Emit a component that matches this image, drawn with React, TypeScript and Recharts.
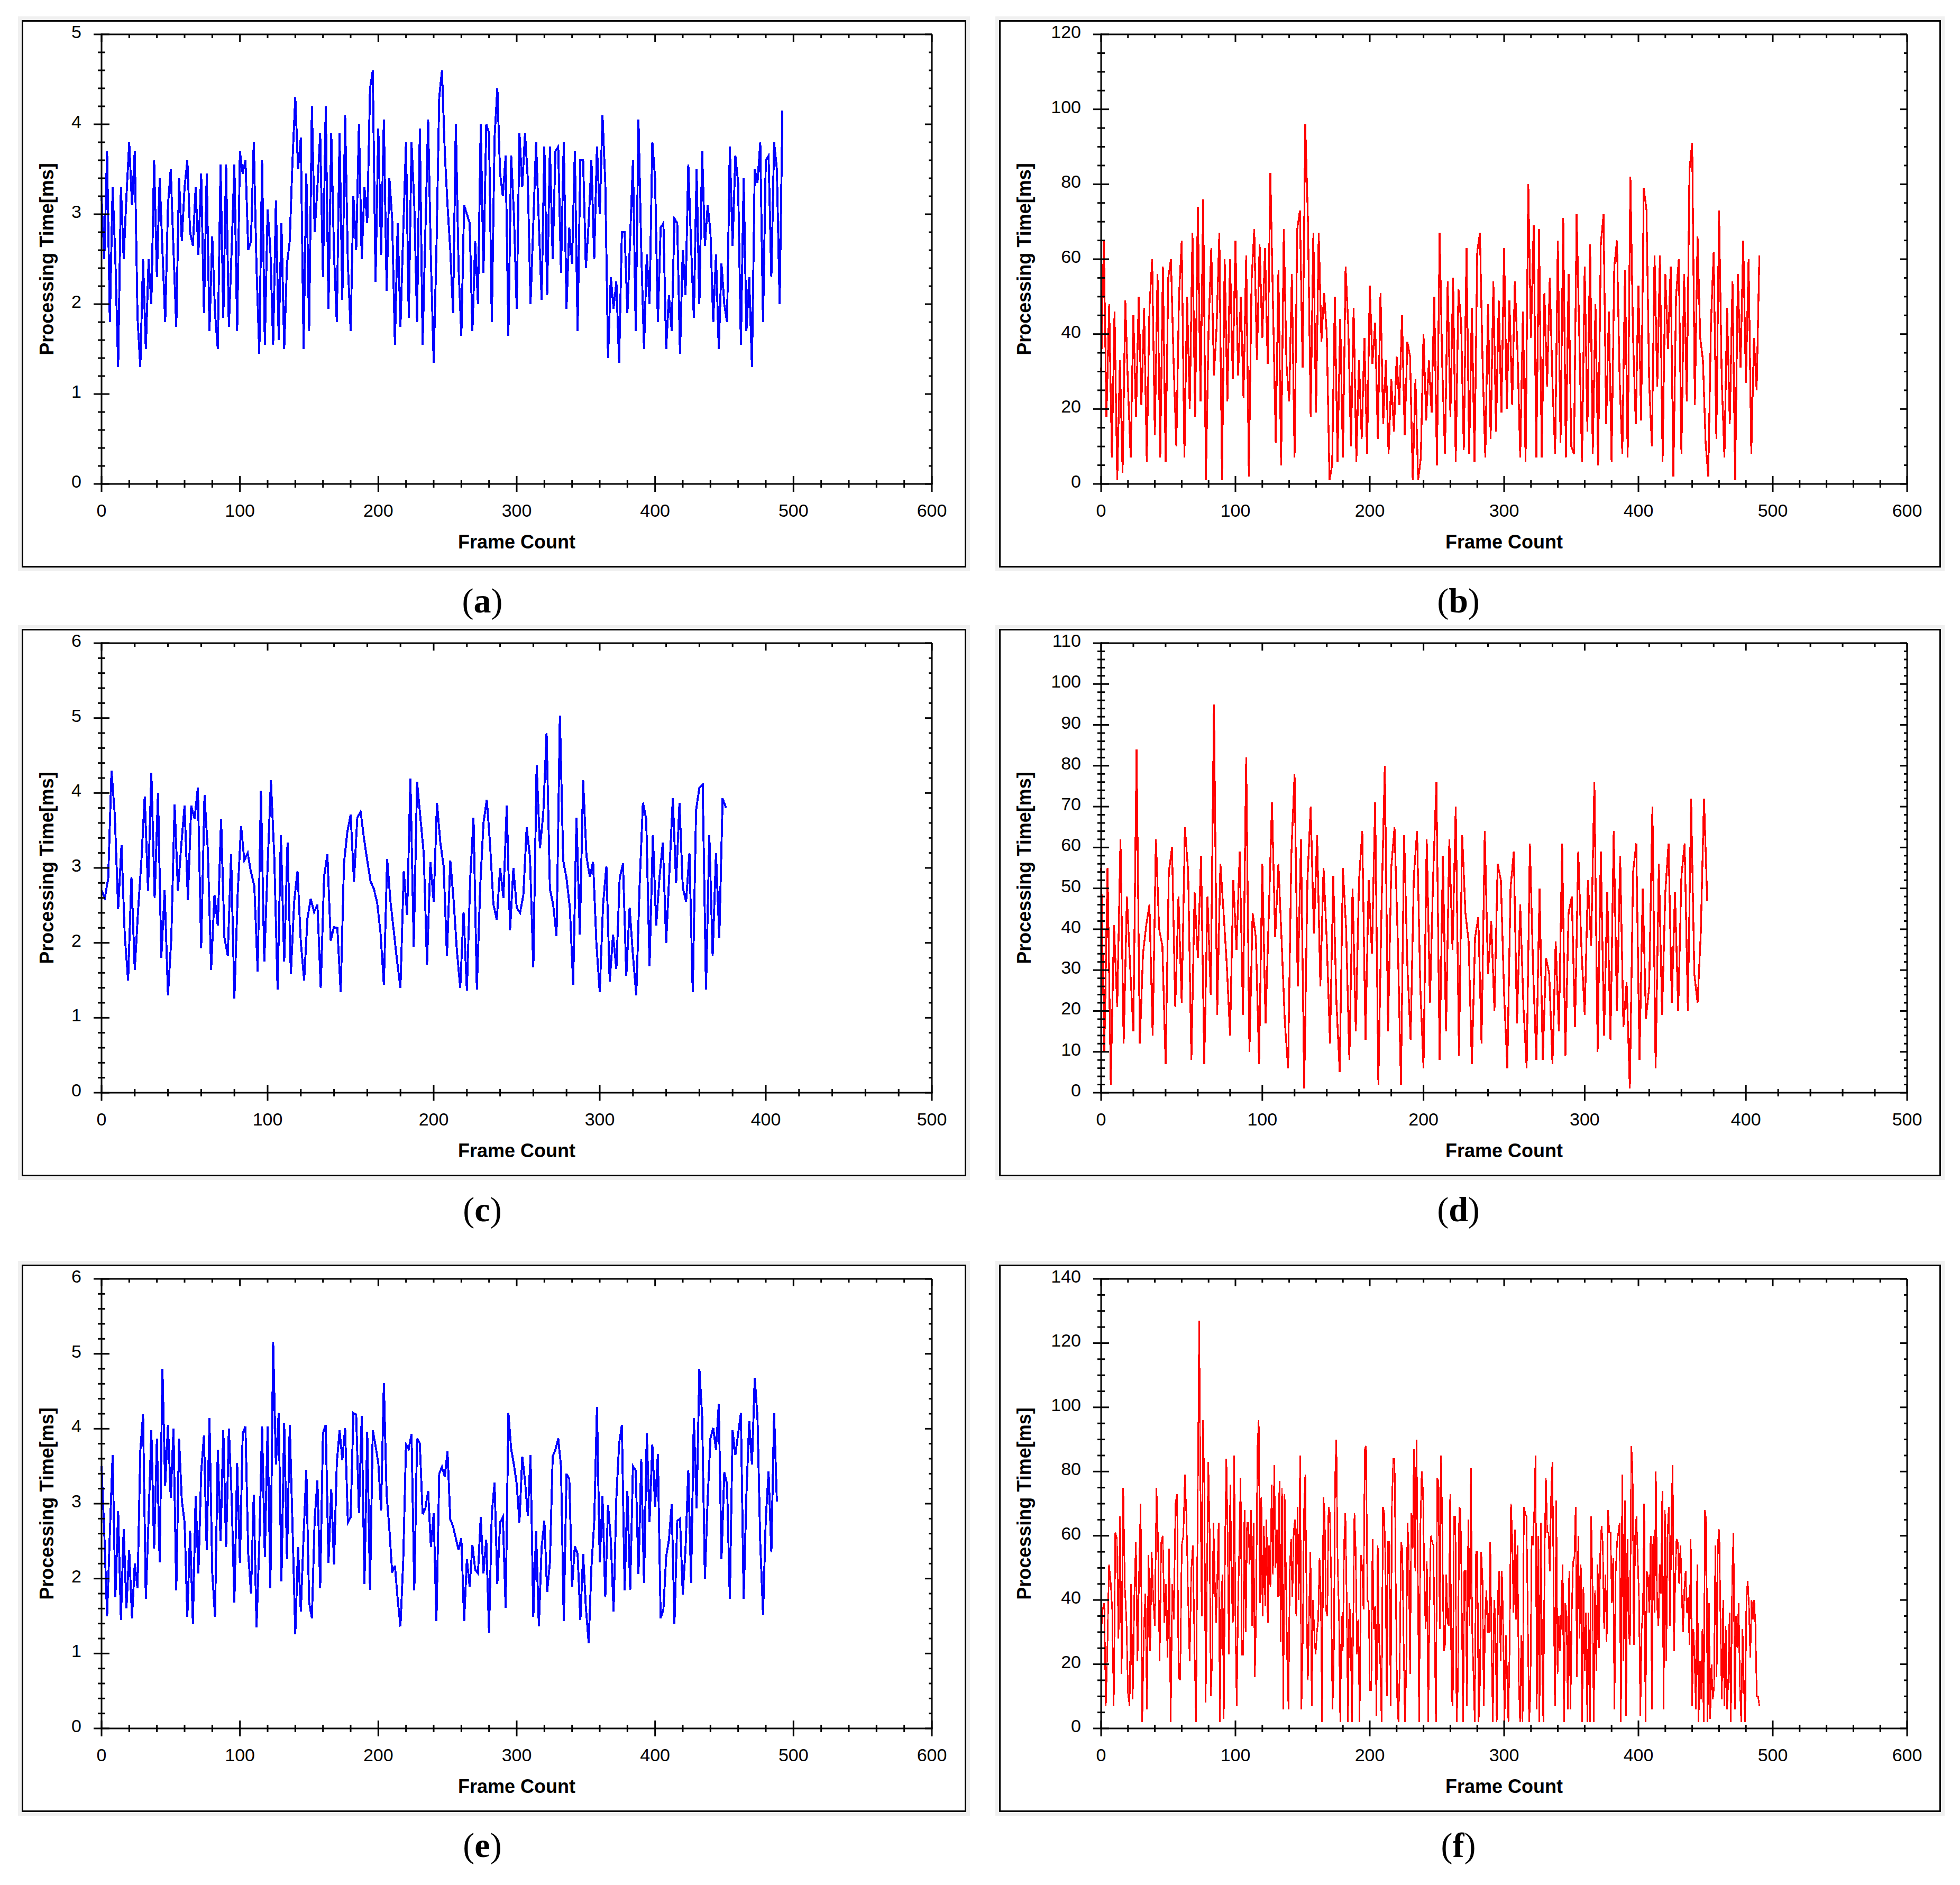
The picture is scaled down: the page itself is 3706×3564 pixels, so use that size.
import React from 'react';
import { LineChart, Line, XAxis, YAxis, ReferenceLine } from 'recharts';

const aTimes = [
  3.2, 2.5, 3.7, 1.8, 3.3, 2.5, 1.3, 3.3, 2.5, 3.2, 3.8, 3.1, 3.7, 1.85, 1.3, 2.5, 1.5, 2.5, 2.0, 3.6,
  2.3, 3.4, 2.6, 1.8, 3.1, 3.5, 2.6, 1.75, 3.4, 2.7, 3.3, 3.6, 2.8, 2.65, 3.3, 2.55, 3.45, 1.9, 3.45, 1.7,
  2.75, 1.9, 1.5, 3.55, 1.85, 3.55, 1.75, 2.6, 3.55, 1.7, 3.7, 3.45, 3.6, 2.6, 2.7, 3.8, 2.4, 1.45, 3.6, 1.55,
  3.05, 2.6, 1.55, 3.15, 1.6, 2.9, 1.5, 2.45, 2.7, 3.6, 4.3, 3.5, 3.85, 1.5, 3.45, 1.7, 4.2, 2.8, 3.3, 3.9,
  2.3, 4.2, 1.95, 3.9, 2.55, 1.8, 3.9, 2.05, 4.1, 2.45, 1.7, 3.2, 2.6, 4.0, 2.5, 3.3, 2.9, 4.4, 4.6, 2.25,
  3.95, 2.55, 4.05, 2.15, 3.4, 2.95, 1.55, 2.9, 1.75, 2.8, 3.8, 1.85, 3.8, 3.1, 1.8, 3.95, 1.55, 2.8, 4.05, 2.5,
  1.35, 2.6, 4.3, 4.6, 3.7, 3.1, 2.6, 1.9, 4.0, 2.4, 1.65, 3.1, 3.0, 2.9, 1.7, 2.7, 2.0, 4.0, 2.35, 4.0,
  3.9, 1.8, 3.85, 4.4, 3.45, 3.2, 3.65, 1.65, 3.65, 3.0, 1.95, 3.9, 3.3, 3.9, 3.4, 2.0, 2.9, 3.8, 2.9, 2.05,
  3.75, 2.1, 3.75, 2.5, 3.7, 3.75, 2.35, 3.8, 1.95, 2.85, 2.45, 3.7, 1.7, 3.6, 3.6, 2.4, 2.9, 3.6, 2.5, 3.75,
  3.0, 4.1, 3.35, 1.4, 2.3, 1.95, 2.25, 1.35, 2.8, 2.8, 1.9, 2.75, 3.6, 1.7, 4.05, 2.6, 1.5, 2.55, 2.0, 3.8,
  3.4, 1.8, 2.85, 2.9, 1.5, 2.1, 1.7, 2.95, 2.9, 1.45, 2.6, 2.1, 3.55, 2.65, 1.85, 3.5, 2.0, 3.7, 2.65, 3.1,
  2.8, 1.8, 2.55, 1.5, 2.45, 2.0, 1.8, 3.75, 2.65, 3.65, 3.35, 1.55, 3.4, 1.7, 2.3, 1.3, 3.5, 3.35, 3.8, 1.8,
  3.6, 3.65, 2.3, 3.8, 3.5, 2.0, 4.15,
];

const bTimes = [
  30, 65, 18, 48, 7, 46, 1, 33, 3, 49, 26, 7, 45, 18, 50, 21, 47, 6, 47, 60,
  13, 56, 7, 58, 6, 55, 60, 32, 10, 50, 65, 7, 50, 20, 67, 18, 74, 22, 76, 1,
  41, 63, 29, 42, 67, 1, 60, 22, 60, 28, 65, 29, 50, 23, 61, 2, 54, 68, 33, 64,
  39, 63, 32, 83, 47, 11, 57, 5, 68, 32, 22, 56, 7, 68, 73, 31, 96, 70, 18, 67,
  19, 67, 38, 51, 40, 1, 5, 50, 6, 44, 7, 58, 42, 10, 47, 6, 33, 12, 39, 8,
  53, 32, 43, 12, 51, 16, 33, 8, 28, 14, 34, 21, 45, 13, 38, 34, 1, 28, 1, 7,
  40, 17, 33, 19, 50, 5, 67, 31, 8, 54, 18, 55, 6, 52, 43, 9, 63, 8, 47, 6,
  62, 67, 32, 7, 48, 12, 54, 14, 49, 19, 63, 20, 49, 21, 54, 35, 7, 46, 6, 80,
  39, 69, 7, 68, 7, 51, 26, 55, 27, 8, 65, 11, 71, 7, 56, 10, 8, 72, 39, 6,
  58, 14, 64, 8, 48, 5, 64, 72, 16, 46, 6, 58, 65, 28, 8, 57, 7, 82, 39, 16,
  53, 17, 79, 73, 27, 10, 61, 26, 61, 6, 56, 36, 58, 2, 50, 60, 8, 56, 22, 84,
  91, 21, 66, 39, 33, 11, 2, 43, 62, 12, 73, 28, 7, 47, 16, 54, 1, 56, 31, 65,
  27, 60, 8, 39, 25, 61,
];

const cTimes = [
  2.7, 2.6, 2.86, 4.3, 3.7, 2.45, 3.3, 2.09, 1.5, 2.88, 1.64, 2.43, 3.1, 3.95, 2.7, 4.27, 2.6, 4.0, 1.8, 2.7,
  1.3, 2.05, 3.85, 2.7, 3.3, 3.83, 2.57, 3.83, 3.65, 4.07, 1.93, 3.97, 3.24, 1.64, 2.64, 2.23, 3.65, 2.07, 1.83, 3.18,
  1.26, 2.66, 3.56, 3.1, 3.2, 2.94, 2.76, 1.62, 4.03, 1.75, 3.02, 4.17, 3.16, 1.38, 3.44, 1.75, 3.34, 1.58, 2.55, 2.96,
  2.01, 1.5, 2.33, 2.59, 2.41, 2.51, 1.4, 2.88, 3.18, 2.03, 2.21, 2.2, 1.34, 3.06, 3.48, 3.71, 2.82, 3.67, 3.75, 3.4,
  3.1, 2.82, 2.72, 2.53, 2.13, 1.44, 3.12, 2.55, 2.15, 1.75, 1.4, 2.96, 2.37, 4.19, 1.95, 4.15, 3.67, 3.2, 1.71, 3.08,
  2.55, 3.87, 3.34, 3.02, 1.83, 3.1, 2.57, 1.89, 1.4, 2.41, 1.36, 2.86, 3.67, 1.38, 2.74, 3.6, 3.91, 3.3, 2.51, 2.31,
  3.0, 2.6, 3.83, 2.17, 3.0, 2.47, 2.4, 2.64, 3.54, 3.14, 1.67, 4.37, 3.26, 3.73, 4.8, 2.72, 2.5, 2.09, 5.03, 3.1,
  2.86, 2.47, 1.44, 3.67, 2.11, 4.17, 3.16, 2.88, 3.08, 1.99, 1.34, 2.51, 3.02, 1.48, 2.11, 1.65, 2.86, 3.06, 1.56, 2.47,
  1.83, 1.3, 2.76, 3.87, 3.65, 1.69, 3.44, 2.23, 2.88, 3.34, 2.0, 2.98, 3.93, 2.8, 3.87, 2.74, 2.55, 3.2, 1.34, 3.77,
  4.07, 4.11, 1.38, 3.44, 1.83, 3.2, 2.07, 3.93, 3.8,
];

const dTimes = [
  55, 10, 55, 2, 41, 21, 62, 12, 48, 31, 15, 84, 12, 34, 41, 46, 14, 62, 40, 36,
  7, 54, 60, 21, 48, 22, 65, 54, 8, 49, 33, 58, 7, 48, 24, 95, 19, 56, 44, 31,
  14, 52, 35, 59, 19, 82, 10, 44, 38, 7, 56, 17, 43, 71, 38, 56, 37, 17, 6, 58,
  78, 26, 62, 1, 52, 70, 39, 63, 26, 55, 37, 12, 53, 22, 5, 55, 40, 8, 50, 15,
  52, 64, 13, 52, 34, 71, 2, 46, 80, 15, 55, 65, 38, 2, 63, 31, 13, 53, 64, 26,
  6, 62, 22, 53, 76, 8, 58, 15, 62, 35, 70, 9, 63, 44, 37, 7, 38, 43, 12, 64,
  29, 42, 20, 56, 52, 24, 6, 50, 59, 17, 46, 21, 6, 61, 30, 8, 50, 8, 33, 29,
  7, 37, 15, 61, 9, 44, 48, 16, 59, 35, 19, 52, 36, 76, 10, 59, 14, 49, 13, 64,
  20, 58, 16, 27, 1, 54, 61, 8, 50, 18, 26, 70, 6, 56, 19, 49, 61, 22, 49, 20,
  53, 61, 20, 72, 29, 22, 39, 72, 47,
];

const eTimes = [
  3.5, 2.6, 1.5, 2.6, 3.65, 1.75, 2.9, 1.45, 2.66, 1.6, 2.38, 1.47, 2.2, 1.87, 3.7, 4.19, 1.73, 2.8, 3.98, 2.4,
  3.87, 2.22, 4.8, 3.24, 4.05, 3.08, 4.0, 1.84, 3.87, 3.05, 2.75, 1.49, 2.64, 1.4, 3.1, 2.07, 3.42, 3.91, 2.38, 4.14,
  2.08, 1.49, 3.72, 2.5, 3.98, 2.42, 4.0, 3.08, 1.68, 3.54, 2.21, 3.94, 4.03, 2.33, 1.8, 3.12, 1.35, 2.47, 4.03, 2.29,
  4.03, 1.87, 5.16, 3.52, 4.21, 1.96, 4.07, 2.26, 4.05, 2.7, 1.26, 2.42, 1.56, 2.57, 3.45, 1.68, 1.47, 2.79, 3.31, 1.87,
  3.94, 4.05, 2.21, 3.19, 2.19, 3.54, 3.98, 3.58, 4.01, 2.75, 2.82, 4.21, 4.19, 2.87, 4.17, 1.93, 3.96, 1.85, 3.98, 3.77,
  3.54, 2.91, 4.61, 3.12, 2.66, 2.08, 2.17, 1.72, 1.36, 2.24, 3.79, 3.73, 3.93, 1.84, 3.87, 3.8, 2.86, 2.94, 3.17, 2.42,
  2.87, 1.43, 3.4, 3.49, 3.36, 3.7, 2.79, 2.7, 2.54, 2.38, 2.54, 1.43, 2.26, 1.89, 2.45, 2.12, 2.07, 2.82, 2.07, 2.52,
  1.28, 2.87, 3.28, 1.93, 2.75, 2.82, 1.61, 4.21, 3.73, 3.52, 3.26, 2.75, 3.63, 3.31, 2.84, 3.65, 1.49, 2.63, 1.36, 2.42,
  2.77, 1.82, 2.22, 3.63, 3.72, 3.87, 3.5, 1.43, 3.4, 3.33, 1.89, 2.43, 2.33, 1.45, 2.33, 1.61, 1.14, 2.15, 2.75, 4.29,
  2.22, 3.1, 1.75, 2.98, 2.52, 1.56, 3.07, 3.8, 4.05, 1.84, 3.17, 1.85, 3.5, 3.44, 2.06, 3.59, 1.94, 3.94, 2.75, 3.79,
  2.96, 3.66, 1.47, 1.59, 2.29, 2.52, 2.99, 1.4, 2.77, 2.8, 1.79, 2.4, 3.45, 1.94, 4.14, 2.94, 4.8, 4.17, 2.0, 3.07,
  3.87, 4.01, 3.72, 4.33, 2.26, 3.42, 3.26, 1.73, 3.98, 3.65, 3.93, 4.21, 1.73, 3.12, 4.1, 3.52, 4.68, 4.15, 2.47, 1.52,
  2.8, 3.43, 2.35, 4.21, 3.03,
];

// panel (f) was read about once per frame, in two stretches (before / after the 127 ms spike)
const fTimesStart = [
  30, 37, 39, 7, 26, 51, 46, 37, 7, 61, 59, 28, 66, 17, 75, 44, 34, 11, 7, 45,
  9, 41, 58, 21, 48, 70, 2, 30, 42, 6, 54, 24, 55, 40, 32, 75, 58, 21, 58, 60,
  33, 45, 22, 56, 2, 45, 34, 70, 73, 16, 15, 57, 60, 79, 65, 41, 21, 49, 57, 27,
  2, 64, 127,
];
const fTimesRest = [
  73, 35, 96, 73, 8, 47, 83, 63, 10, 22, 64, 47, 33, 47, 64, 2, 40, 48, 3, 58,
  84, 59, 23, 76, 45, 33, 85, 33, 7, 38, 57, 78, 23, 23, 68, 30, 64, 64, 51, 68,
  32, 64, 16, 37, 87, 96, 39, 72, 35, 63, 38, 65, 33, 57, 44, 76, 48, 82, 50, 62,
  41, 77, 27, 75, 6, 73, 49, 22, 6, 49, 59, 41, 61, 65, 35, 69, 40, 85, 6, 27,
  67, 79, 38, 15, 38, 55, 7, 40, 29, 23, 30, 34, 53, 41, 2, 72, 66, 37, 35, 69,
  67, 46, 6, 19, 77, 90, 51, 37, 2, 35, 24, 57, 67, 40, 2, 39, 34, 2, 31, 67,
  55, 23, 34, 2, 54, 50, 37, 87, 88, 40, 39, 12, 12, 59, 31, 38, 4, 57, 28, 20,
  2, 69, 67, 51, 10, 58, 58, 7, 70, 84, 84, 42, 10, 2, 19, 58, 56, 28, 2, 17,
  64, 55, 17, 67, 56, 87, 49, 90, 49, 2, 63, 80, 74, 47, 31, 52, 2, 38, 60, 58,
  57, 30, 2, 78, 77, 31, 85, 59, 24, 26, 48, 33, 32, 73, 10, 7, 66, 66, 2, 14,
  69, 68, 37, 2, 49, 49, 7, 65, 32, 81, 31, 17, 2, 55, 55, 2, 14, 55, 46, 7,
  34, 43, 30, 30, 58, 25, 2, 40, 33, 2, 42, 49, 21, 49, 31, 2, 29, 17, 2, 27,
  70, 59, 36, 62, 34, 57, 16, 2, 29, 2, 69, 67, 66, 34, 2, 10, 60, 57, 68, 85,
  6, 60, 2, 64, 25, 2, 54, 78, 61, 61, 49, 72, 83, 44, 7, 71, 17, 35, 24, 38,
  51, 2, 39, 35, 6, 49, 6, 36, 52, 53, 69, 16, 60, 28, 51, 2, 44, 18, 36, 2,
  36, 2, 66, 45, 2, 43, 18, 51, 25, 54, 63, 57, 31, 48, 27, 68, 61, 61, 39, 53,
  6, 49, 58, 61, 64, 2, 79, 21, 71, 4, 59, 30, 26, 88, 81, 26, 60, 66, 53, 40,
  4, 31, 36, 70, 2, 49, 47, 36, 60, 6, 60, 36, 80, 38, 32, 51, 42, 74, 6, 68,
  21, 60, 69, 32, 65, 82, 24, 47, 59, 58, 45, 57, 43, 30, 43, 49, 36, 41, 26, 59,
  7, 31, 21, 6, 51, 2, 21, 9, 31, 2, 68, 64, 2, 39, 3, 20, 9, 13, 57, 16,
  58, 62, 33, 9, 40, 7, 32, 6, 15, 36, 2, 47, 61, 6, 35, 25, 39, 13, 2, 31,
  14, 2, 40, 46, 38, 22, 40, 34, 40, 32, 10, 10, 7,
];

// axis tick labels
const frameTicks600 = [0, 100, 200, 300, 400, 500, 600];
const frameTicks500 = [0, 100, 200, 300, 400, 500];
const msTicks5 = [0, 1, 2, 3, 4, 5];
const msTicks6 = [0, 1, 2, 3, 4, 5, 6];
const msTicks120 = [0, 20, 40, 60, 80, 100, 120];
const msTicks110 = [0, 10, 20, 30, 40, 50, 60, 70, 80, 90, 100, 110];
const msTicks140 = [0, 20, 40, 60, 80, 100, 120, 140];

const BLUE = '#0000ff';
const RED = '#ff0000';
const SANS = "'Liberation Sans', Arial, sans-serif";
const SERIF = "'Liberation Serif', 'Times New Roman', serif";

// page layout (px)
const PAGE_W = 3706;
const PAGE_H = 3564;
const BOX_H = 1035;
const COLS = [
  { left: 41, width: 1786, inL: 151, inR: 65 },
  { left: 1889, width: 1781, inL: 193, inR: 64 },
];
const ROW_TOPS = [38, 1189, 2391];
const IN_TOP = 27;
const IN_BOTTOM = 158;
const PLOT_H = BOX_H - IN_TOP - IN_BOTTOM;

// lay samples evenly between the first and last frame they were read at
const spread = (vals: number[], from: number, to: number) =>
  vals.map((t, i) => ({ frame: from + ((to - from) * i) / (vals.length - 1), t }));

const withMinor = (major: number[], step: number) => {
  const max = major[major.length - 1];
  const n = Math.round(max / step);
  return Array.from({ length: n + 1 }, (_, i) => Math.round(i * step * 1000) / 1000);
};

const isIn = (arr: number[], v: number) => arr.some((m) => Math.abs(m - v) < 1e-6);

const panels = [
  { label: 'a', col: 0, row: 0, color: BLUE, width: 3.8, rows: spread(aTimes, 0, 492), xMajor: frameTicks600, yMajor: msTicks5, yStep: 0.2 },
  { label: 'b', col: 1, row: 0, color: RED, width: 3.3, rows: spread(bTimes, 0, 490), xMajor: frameTicks600, yMajor: msTicks120, yStep: 5 },
  { label: 'c', col: 0, row: 1, color: BLUE, width: 3.8, rows: spread(cTimes, 0, 376), xMajor: frameTicks500, yMajor: msTicks6, yStep: 0.2 },
  { label: 'd', col: 1, row: 1, color: RED, width: 3.3, rows: spread(dTimes, 0, 376), xMajor: frameTicks500, yMajor: msTicks110, yStep: 2 },
  { label: 'e', col: 0, row: 2, color: BLUE, width: 3.8, rows: spread(eTimes, 0, 488), xMajor: frameTicks600, yMajor: msTicks6, yStep: 0.2 },
  {
    label: 'f', col: 1, row: 2, color: RED, width: 2.8,
    rows: [...spread(fTimesStart, 0, 73), ...spread(fTimesRest, 74, 490)],
    xMajor: frameTicks600, yMajor: msTicks140, yStep: 5,
  },
];

type P = (typeof panels)[number];

const makeXTick = (major: number[]) => (props: any) => {
  const { x, y, payload } = props;
  const big = isIn(major, payload.value);
  const l = big ? 15 : 7;
  const t = big ? 14 : 7;
  return (
    <g>
      <line x1={x} y1={y - l} x2={x} y2={y + l} stroke="#000" strokeWidth={3} />
      <line x1={x} y1={y - PLOT_H} x2={x} y2={y - PLOT_H + t} stroke="#000" strokeWidth={3} />
      {big && (
        <text x={x} y={y + 62} textAnchor="middle" fontSize={34} fontFamily={SANS} fill="#000">
          {payload.value}
        </text>
      )}
    </g>
  );
};

const makeYTick = (major: number[], plotW: number) => (props: any) => {
  const { x, y, payload } = props;
  const big = isIn(major, payload.value);
  const l = big ? 15 : 7;
  const r = big ? 13 : 6;
  return (
    <g>
      <line x1={x - l} y1={y} x2={x + l} y2={y} stroke="#000" strokeWidth={3} />
      <line x1={x + plotW - r} y1={y} x2={x + plotW} y2={y} stroke="#000" strokeWidth={3} />
      {big && (
        <text x={x - 38} y={y + 7} textAnchor="end" fontSize={34} fontFamily={SANS} fill="#000">
          {payload.value}
        </text>
      )}
    </g>
  );
};

function Panel({ p }: { p: P }) {
  const c = COLS[p.col];
  const top = ROW_TOPS[p.row];
  const plotW = c.width - c.inL - c.inR;
  const xMax = p.xMajor[p.xMajor.length - 1];
  const yMax = p.yMajor[p.yMajor.length - 1];
  const axisLine = { stroke: '#000', strokeWidth: 3, strokeLinecap: 'square' as const };
  return (
    <>
      <div style={{ position: 'absolute', left: c.left - 7, top: top - 7, width: c.width + 14, height: BOX_H + 14, background: '#f0f0f0' }} />
      <div style={{ position: 'absolute', left: c.left, top, width: c.width, height: BOX_H, boxSizing: 'border-box', border: '3px solid #000', background: '#fff' }} />
      <div style={{ position: 'absolute', left: c.left, top }}>
        <LineChart
          width={c.width}
          height={BOX_H}
          data={p.rows}
          margin={{ top: IN_TOP, right: c.inR, bottom: IN_BOTTOM - 30, left: c.inL - 60 }}
        >
          <XAxis
            dataKey="frame"
            type="number"
            domain={[0, xMax]}
            ticks={withMinor(p.xMajor, 20)}
            interval={0}
            height={30}
            tickSize={0}
            tickMargin={0}
            tickLine={false}
            axisLine={axisLine}
            tick={makeXTick(p.xMajor)}
          />
          <YAxis
            type="number"
            domain={[0, yMax]}
            ticks={withMinor(p.yMajor, p.yStep)}
            interval={0}
            width={60}
            tickSize={0}
            tickMargin={0}
            tickLine={false}
            axisLine={axisLine}
            tick={makeYTick(p.yMajor, plotW)}
          />
          <ReferenceLine y={yMax} stroke="#000" strokeWidth={3} />
          <ReferenceLine x={xMax} stroke="#000" strokeWidth={3} />
          <Line
            type="linear"
            dataKey="t"
            stroke={p.color}
            strokeWidth={p.width}
            strokeLinejoin="miter"
            shapeRendering="crispEdges"
            dot={false}
            isAnimationActive={false}
          />
        </LineChart>
      </div>
    </>
  );
}

export default function App() {
  return (
    <div style={{ position: 'absolute', left: 0, top: 0, width: PAGE_W, height: PAGE_H, background: '#fff', overflow: 'hidden' }}>
      {panels.map((p) => (
        <Panel key={p.label} p={p} />
      ))}
      <svg width={PAGE_W} height={PAGE_H} style={{ position: 'absolute', left: 0, top: 0, pointerEvents: 'none' }}>
        {panels.map((p) => {
          const c = COLS[p.col];
          const top = ROW_TOPS[p.row];
          const plotW = c.width - c.inL - c.inR;
          const cx = c.left + c.inL + plotW / 2;
          const cy = top + IN_TOP + PLOT_H / 2;
          return (
            <g key={p.label}>
              <text
                transform={`translate(${c.left + 47 + 13},${cy}) rotate(-90)`}
                textAnchor="middle"
                fontSize={36}
                fontWeight="bold"
                fontFamily={SANS}
                fill="#000"
              >
                Processing Time[ms]
              </text>
              <text x={cx} y={top + IN_TOP + PLOT_H + 122} textAnchor="middle" fontSize={36} fontWeight="bold" fontFamily={SANS} fill="#000">
                Frame Count
              </text>
              <text x={c.left + c.width / 2 - 22} y={top + 1120} textAnchor="middle" fontSize={66} fontFamily={SERIF} fill="#000">
                (<tspan fontWeight="bold">{p.label}</tspan>)
              </text>
            </g>
          );
        })}
      </svg>
    </div>
  );
}
